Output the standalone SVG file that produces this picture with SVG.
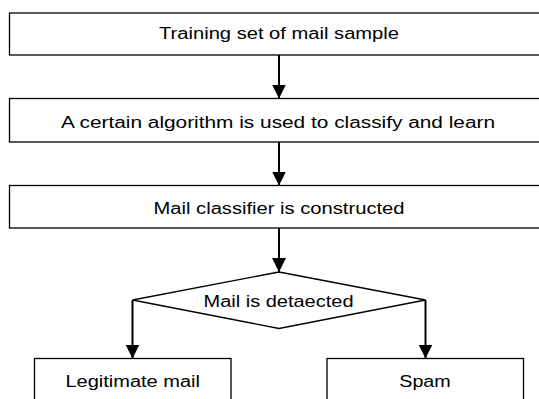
<svg xmlns="http://www.w3.org/2000/svg" width="539" height="399" viewBox="0 0 539 399">
  <style>
    .box { fill: #ffffff; stroke: #000000; stroke-width: 1.3; }
    .edge { fill: none; stroke: #000000; stroke-width: 2; }
    .label { font-family: "Liberation Sans", Arial, sans-serif; font-size: 16px; fill: #000000; text-anchor: middle; }
  </style>
  <defs>
    <marker id="arrow" markerUnits="userSpaceOnUse" markerWidth="14" markerHeight="14" refX="14" refY="7" orient="auto">
      <path d="M0,0 L14,7 L0,14 Z" fill="#000000"/>
    </marker>
  </defs>

  <rect width="539" height="399" fill="#ffffff"/>

  <g id="connectors">
    <line class="edge" x1="279" y1="55" x2="279" y2="98.5" marker-end="url(#arrow)"/>
    <line class="edge" x1="279" y1="142" x2="279" y2="185.5" marker-end="url(#arrow)"/>
    <line class="edge" x1="279" y1="228" x2="279" y2="272" marker-end="url(#arrow)"/>
    <line class="edge" x1="132.5" y1="300" x2="132.5" y2="358.5" marker-end="url(#arrow)"/>
    <line class="edge" x1="425.5" y1="300" x2="425.5" y2="358.5" marker-end="url(#arrow)"/>
  </g>

  <g id="training-set">
    <rect class="box" x="9.5" y="13" width="545" height="42"/>
    <text class="label" x="279" y="39" textLength="240" lengthAdjust="spacingAndGlyphs">Training set of mail sample</text>
  </g>

  <g id="algorithm">
    <rect class="box" x="9.5" y="98.5" width="545" height="43.5"/>
    <text class="label" x="278" y="128" textLength="434" lengthAdjust="spacingAndGlyphs">A certain algorithm is used to classify and learn</text>
  </g>

  <g id="classifier">
    <rect class="box" x="9.5" y="185.5" width="545" height="42.5"/>
    <text class="label" x="279" y="214" textLength="251" lengthAdjust="spacingAndGlyphs">Mail classifier is constructed</text>
  </g>

  <g id="detection">
    <polygon class="box" points="279,272 425.5,300 279,328.5 132.5,300"/>
    <text class="label" x="278.5" y="307" textLength="150" lengthAdjust="spacingAndGlyphs">Mail is detaected</text>
  </g>

  <g id="legitimate">
    <rect class="box" x="34.5" y="358.5" width="196.5" height="50"/>
    <text class="label" x="132.7" y="387" textLength="134.5" lengthAdjust="spacingAndGlyphs">Legitimate mail</text>
  </g>

  <g id="spam">
    <rect class="box" x="327" y="358.5" width="196.5" height="50"/>
    <text class="label" x="425" y="387" textLength="51.5" lengthAdjust="spacingAndGlyphs">Spam</text>
  </g>
</svg>
